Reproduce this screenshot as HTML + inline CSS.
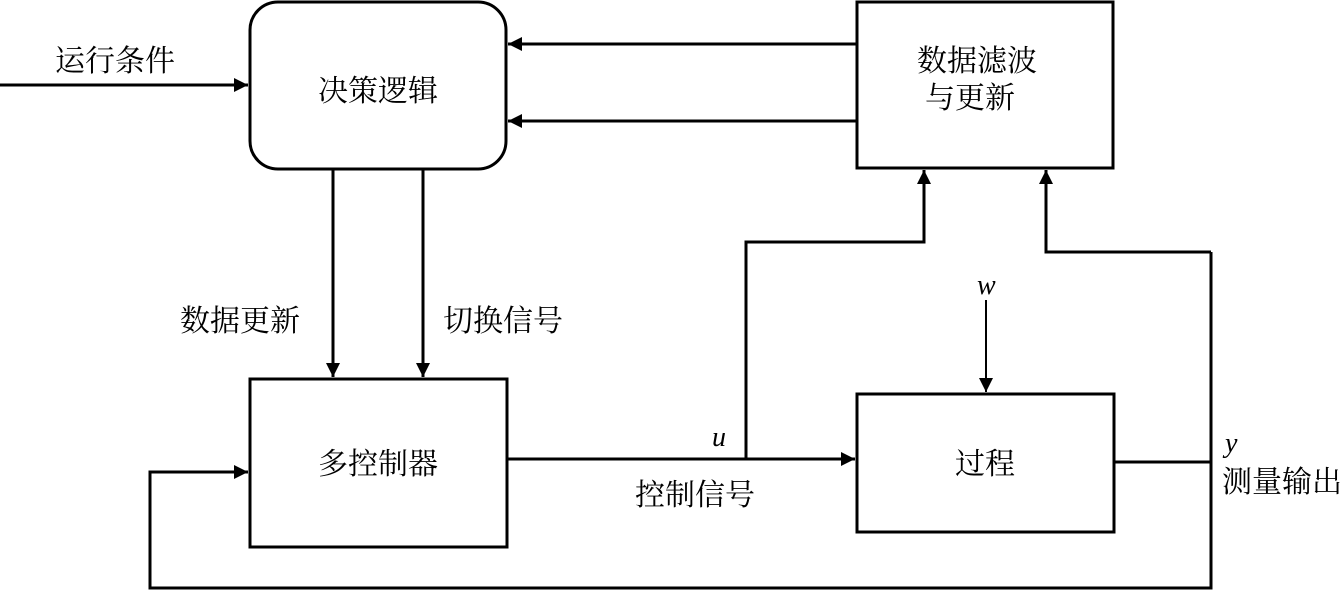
<!DOCTYPE html>
<html><head><meta charset="utf-8"><style>
html,body{margin:0;padding:0;background:#fff;}
svg text{font-family:"Liberation Serif","Noto Serif CJK SC","Noto Sans CJK SC",serif;fill:#000;}
</style></head><body>
<svg width="1342" height="591" viewBox="0 0 1342 591" xmlns="http://www.w3.org/2000/svg">
<defs><marker id="a" viewBox="0 0 10 10" refX="10" refY="5" markerWidth="14" markerHeight="14" markerUnits="userSpaceOnUse" orient="auto"><path d="M0,0L10,5L0,10z" fill="#000"/></marker></defs>
<g stroke="#000" stroke-width="3" fill="none">
<rect x="250" y="2" width="256" height="167" rx="28"/>
<rect x="857" y="2" width="256" height="166"/>
<rect x="250" y="379" width="257" height="168"/>
<rect x="857" y="394" width="257" height="138"/>
<line x1="0" y1="85" x2="248" y2="85" marker-end="url(#a)"/>
<line x1="857" y1="44" x2="508" y2="44" marker-end="url(#a)"/>
<line x1="857" y1="121" x2="508" y2="121" marker-end="url(#a)"/>
<line x1="333" y1="169" x2="333" y2="377" marker-end="url(#a)"/>
<line x1="423" y1="169" x2="423" y2="377" marker-end="url(#a)"/>
<line x1="507" y1="459" x2="855" y2="459" marker-end="url(#a)"/>
<polyline points="746,459 746,242 924,242 924,170" marker-end="url(#a)"/>
<polyline points="1114,462 1211,462"/>
<polyline points="1211,252 1046,252 1046,170" marker-end="url(#a)"/>
<polyline points="1211,252 1211,588 150,588 150,472 248,472" marker-end="url(#a)"/>
<line x1="986" y1="300" x2="986" y2="392" stroke-width="2" marker-end="url(#a)"/>
</g>
<g font-size="30">
<text x="55" y="71">运行条件</text>
<text x="378" y="101" text-anchor="middle">决策逻辑</text>
<text x="977" y="71" text-anchor="middle">数据滤波</text>
<text x="970" y="108" text-anchor="middle">与更新</text>
<text x="180" y="331">数据更新</text>
<text x="443" y="331">切换信号</text>
<text x="378" y="474" text-anchor="middle">多控制器</text>
<text x="985" y="474" text-anchor="middle">过程</text>
<text x="635" y="505">控制信号</text>
<text x="1222" y="492">测量输出</text>
</g>
<g font-size="28" font-style="italic">
<text x="712" y="446">u</text>
<text x="977" y="294">w</text>
<text x="1225" y="452">y</text>
</g>
</svg>
</body></html>
